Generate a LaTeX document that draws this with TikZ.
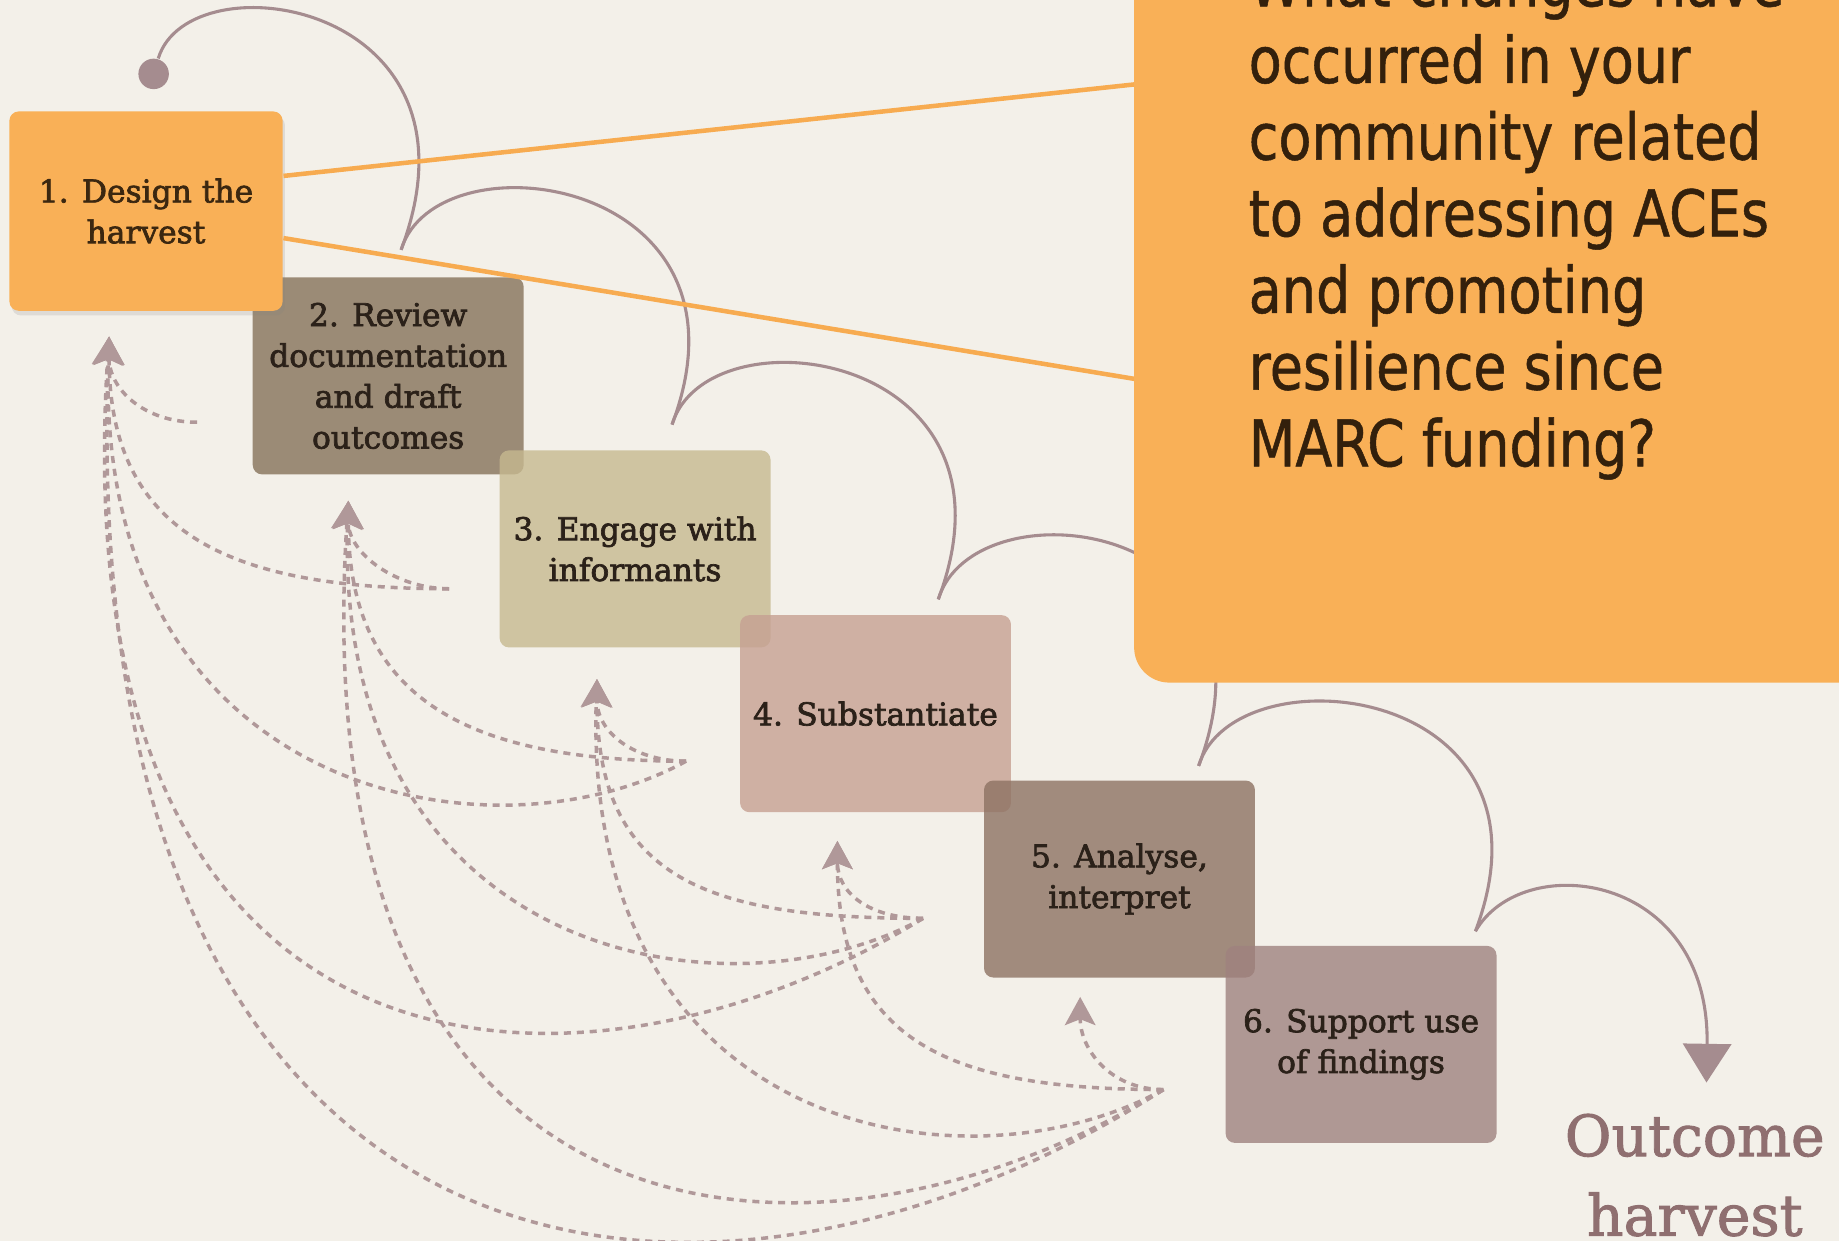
\documentclass[tikz,border=0pt]{standalone}
\usepackage{fontspec}
\usepackage{tikz}
\usetikzlibrary{arrows.meta}
\usetikzlibrary{shadows}
\newfontfamily\stagefont{DejaVu Serif}[FakeBold=2.2]
\newfontfamily\outfont{DejaVu Serif}[FakeBold=1.6]
\newfontfamily\askfont{DejaVu Sans}[FakeStretch=0.84, FakeBold=0.8]
\definecolor{paper}{HTML}{F3F0E9}
\definecolor{harvestorange}{HTML}{F9B057}
\definecolor{orangeline}{HTML}{F7AB50}
\definecolor{mauve}{HTML}{A58C8F}
\definecolor{mauvedash}{HTML}{B09899}
\definecolor{stagetext}{HTML}{2B2119}
\definecolor{firsttext}{HTML}{3B2710}
\definecolor{asktext}{HTML}{33200C}
\definecolor{outtext}{HTML}{8F6F70}
\definecolor{review}{HTML}{86725A}
\definecolor{engage}{HTML}{C6B98F}
\definecolor{substantiate}{HTML}{C6A092}
\definecolor{analyse}{HTML}{8D7263}
\definecolor{support}{HTML}{9F827F}
\tikzset{stage/.style = {shape=rectangle, rounded corners=0.8mm, minimum width=23.1mm, minimum height=16.8mm, inner sep=0pt, align=center, text=stagetext, font=\stagefont\fontsize{7.6}{9.9}\selectfont, fill opacity=0.8, text opacity=1}}
\tikzset{revisit/.style = {mauvedash, line width=0.85pt, dash pattern=on 0.6mm off 0.5mm, -{Stealth[width=2.6mm,length=2.4mm,inset=0.5mm]}}}
\tikzset{flowarc/.style = {mauve, line width=0.75pt}}

\begin{document}
\begin{tikzpicture}[x=0.1mm, y=-0.1mm]
                    \useasboundingbox (0,0) rectangle (1568,1058);
                    \clip (0,0) rectangle (1568,1058);
                    \fill[paper] (0,0) rectangle (1568,1058);

                    \coordinate (s2) at (168,360);
                    \coordinate (s3) at (383,502);
                    \coordinate (s4) at (585,649);
                    \coordinate (s5) at (787,783);
                    \coordinate (s6) at (992,929);

                    \coordinate (a1) at (93,287);
                    \coordinate (a2) at (297,427);
                    \coordinate (a3) at (509,579);
                    \coordinate (a4) at (714,717);
                    \coordinate (a5) at (921,850);

                    \foreach \s/\a in {s2/a1, s3/a2, s4/a3, s5/a4, s6/a5}
                        \draw[revisit] (\s) .. controls +(-45,0) and +(0,45) .. (\a);
                    \foreach \s/\a in {s3/a1, s4/a2, s5/a3, s6/a4}
                        \draw[revisit] (\s) .. controls +(-185,0) and +(0,170) .. (\a);
                    \foreach \s/\a in {s4/a1, s5/a2, s6/a3}
                        \draw[revisit] (\s) .. controls +(-165,91) and +(-13,393) .. (\a);
                    \foreach \s/\a in {s5/a1, s6/a2}
                        \draw[revisit] (\s) .. controls +(-287,177) and +(-43,663) .. (\a);
                    \draw[revisit] (s6) .. controls +(-392,251) and +(-30,830) .. (a1);

                    \node[circle, fill=mauve, inner sep=0pt, minimum size=2.6mm] (seed) at (131,63) {};
                    \coordinate (c1) at (342,213);
                    \coordinate (c2) at (573,362);
                    \coordinate (c3) at (800,511);
                    \coordinate (c4) at (1022,653);
                    \coordinate (c5) at (1258,794);
                    \coordinate (c6) at (1455,923);

                    \foreach \from/\to in {seed/c1, c1/c2, c2/c3, c3/c4, c4/c5}
                        \draw[flowarc] (\from) .. controls +(30,-100) and +(80,-212) .. (\to);
                    \draw[flowarc, -{Triangle[width=4.1mm,length=3.3mm]}] (c5) .. controls +(40,-70) and +(3,-180) .. (c6);

                    \node[stage, fill=review] (b2) at (331,320.5) {2. Review\\documentation\\and draft\\outcomes};
                    \node[stage, fill=engage] (b3) at (541.5,468) {3. Engage with\\informants};
                    \node[stage, fill=substantiate] (b4) at (746.5,608.5) {4. Substantiate};
                    \node[stage, fill=analyse] (b5) at (954.5,749.5) {5. Analyse,\\interpret};
                    \node[stage, fill=support] (b6) at (1160.5,890.5) {6. Support use\\of findings};
                    \node[stage, fill=harvestorange, fill opacity=1, text=firsttext, minimum width=23.3mm, minimum height=17mm,
                          drop shadow={opacity=0.18, shadow xshift=0.2mm, shadow yshift=-0.4mm}] (b1) at (124.5,180) {1. Design the\\harvest};

                    \coordinate (q1) at (967,72);
                    \coordinate (q2) at (967,323);
                    \draw[orangeline, line width=1.1pt] ([yshift=3mm]b1.east) -- (q1);
                    \draw[orangeline, line width=1.1pt] ([yshift=-2.3mm]b1.east) -- (q2);

                    \fill[harvestorange, rounded corners=3mm] (967,-100) rectangle (1700,582);
                    \node[anchor=north west, inner sep=0pt, align=left, text=asktext, font=\askfont\fontsize{15.6}{18.6}\selectfont] (ask) at (1064,-37)
                        {What changes have\\occurred in your\\community related\\to addressing ACEs\\and promoting\\resilience since\\MARC funding?};

                    \node[anchor=north, inner sep=0pt, align=center, text=outtext, font=\outfont\fontsize{13.8}{19.3}\selectfont] (out) at (1445,949) {Outcome\\harvest};
                \end{tikzpicture}
\end{document}
